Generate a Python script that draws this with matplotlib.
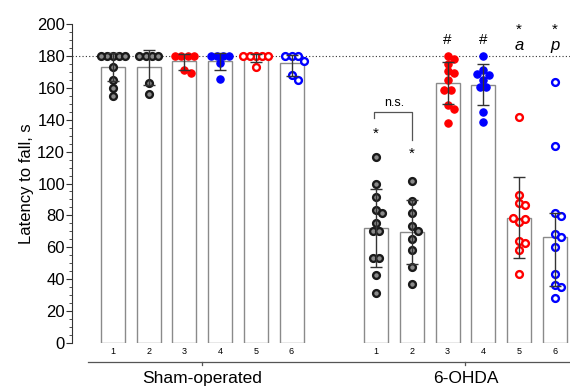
import numpy as np
import matplotlib.pyplot as plt

plt.rcParams['font.family'] = ['Liberation Sans', 'DejaVu Sans']

# 数据
groups = ["Sham-operated", "6-OHDA"]
bar_labels = ["1", "2", "3", "4", "5", "6"]

sham_mean = [173, 173, 177, 177, 178.8, 175.5]
sham_lo = [9, 11, 5.5, 6, 2.8, 8]
sham_hi = [9, 11, 4.5, 5, 2.5, 5]

ohda_mean = [72.2, 69.6, 162.8, 161.6, 78.6, 66.3]
ohda_lo = [24.4, 20.1, 13.2, 12.6, 25.1, 30.3]
ohda_hi = [24.5, 19.8, 13.6, 13.3, 25.8, 15.4]

sham_pts = [
    [180, 180, 180, 180, 180, 173, 165, 160, 155],
    [180, 180, 180, 180, 163, 156],
    [180, 180, 180, 180, 171, 169],
    [180, 180, 180, 180, 175.7, 165.7],
    [180, 180, 180, 180, 180, 173],
    [180, 180, 180, 177, 168, 165],
]
ohda_pts = [
    [116.6, 99.5, 91.5, 83.6, 81.6, 75.4, 70.2, 70.2, 53.5, 53.5, 42.4, 31.3],
    [101.4, 89, 81.5, 73.4, 70.2, 65.4, 58.3, 47.4, 37.2],
    [180, 177.8, 175, 170.5, 169, 164.7, 158.6, 158.6, 149.2, 147, 138.1],
    [180, 170.9, 168, 168.9, 164.9, 160.8, 160.8, 144.6, 138.7],
    [141.5, 92.6, 87.6, 86.5, 75.6, 77.5, 78.4, 63.7, 62.5, 58.3, 43.3],
    [163.9, 123.5, 81.5, 79.4, 68.3, 66.2, 60.4, 43.3, 36.4, 35.3, 28.4],
]

ohda_marks = [["*"], ["*"], ["#"], ["#"], ["*", "a"], ["*", "p"]]

colors = ["#1a1a1a", "#1a1a1a", "red", "blue", "red", "blue"]
filled = [False, False, True, True, False, False]

# 画布
fig = plt.figure(figsize=(5.7, 3.88), dpi=100)
ax = fig.add_axes([0.1263, 0.116, 0.8737, 0.822])

gap = 7.37
x_sham = np.arange(6)
x_ohda = np.arange(6) + gap
xs = np.concatenate([x_sham, x_ohda])
means = sham_mean + ohda_mean
lo = sham_lo + ohda_lo
hi = sham_hi + ohda_hi
pts = sham_pts + ohda_pts

ax.set_xlim(-1.15, 12.8)
ax.set_ylim(0, 200)

ax.bar(xs, means, width=0.67, color="white", edgecolor="#8a8a8a", linewidth=1, zorder=2)


def swarm(vals, xscale, yscale, diam):
    # 简单的蜂群排布，避免点重叠
    placed = []
    offs = []
    for v in vals:
        k = 0
        while True:
            cand = [0] if k == 0 else [k, -k]
            ok = None
            for c in cand:
                dx = c * diam
                if all((dx - p[0]) ** 2 + ((v - p[1]) * yscale) ** 2 >= (diam * 0.95) ** 2 for p in placed):
                    ok = dx
                    break
            if ok is not None:
                break
            k += 1
        placed.append((ok, v))
        offs.append(ok / xscale)
    offs = np.array(offs)
    # 相同数值的点居中
    vals = np.array(vals)
    for v in np.unique(vals):
        m = vals == v
        if m.sum() > 1:
            offs[m] = offs[m] - offs[m].mean()
    return offs


xscale = 35.7  # 每个数据单位的像素
yscale = 319 / 200
for i, (x, vals) in enumerate(zip(xs, pts)):
    c = colors[i % 6]
    f = filled[i % 6]
    offs = swarm(vals, xscale, yscale, 6.2)
    if f:
        ax.scatter(x + offs, vals, s=28, color=c, edgecolors=c, linewidths=0.8, zorder=3)
    else:
        fc = "#8a8a8a" if i % 6 < 2 else "white"
        ax.scatter(x + offs, vals, s=24, facecolors=fc, edgecolors=c, linewidths=1.7, zorder=3)

ax.errorbar(xs, means, yerr=[lo, hi], fmt="none", ecolor="#333333", elinewidth=1,
            capsize=4.5, capthick=1, zorder=4)

ax.axhline(180, color="#333333", linestyle=(0, (1, 2)), linewidth=0.8, zorder=1)

# 标注
for x, m in zip(x_ohda, ohda_marks):
    if m[0] == "#":
        ax.text(x, 190, "#", ha="center", va="center", fontsize=11)
    elif len(m) == 2:
        ax.text(x, 196.5, "*", ha="center", va="center", fontsize=11)
        ax.text(x, 186.5, m[1], ha="center", va="center", fontsize=12, style="italic")
ax.text(x_ohda[0], 131, "*", ha="center", va="center", fontsize=11)
ax.text(x_ohda[1], 118.5, "*", ha="center", va="center", fontsize=11)
ax.plot([x_ohda[0] - 0.05, x_ohda[0] - 0.05, x_ohda[1], x_ohda[1]], [141, 144.8, 144.8, 127],
        color="#555555", linewidth=0.9, zorder=2)
ax.text((x_ohda[0] + x_ohda[1]) / 2, 150.5, "n.s.", ha="center", va="center", fontsize=9)

# 坐标轴
for s in ["top", "right", "bottom"]:
    ax.spines[s].set_visible(False)
ax.spines["left"].set_color("#333333")
ax.set_yticks(np.arange(0, 201, 20))
ax.set_yticks(np.arange(0, 201, 5), minor=True)
ax.tick_params(axis="y", which="major", length=4, color="#333333", labelsize=12, pad=1)
ax.tick_params(axis="y", which="minor", length=2, color="#333333")
ax.set_ylabel("Latency to fall, s", fontsize=12, labelpad=2)

ax.set_xticks(xs)
ax.set_xticklabels(bar_labels * 2, fontsize=6.5)
ax.tick_params(axis="x", length=0, pad=3)

tr = ax.get_xaxis_transform()
ax.plot([-0.7, 12.8], [-0.06, -0.06], transform=tr, color="#555555", linewidth=0.9, clip_on=False)
for gx, g in zip([x_sham.mean(), x_ohda.mean()], groups):
    ax.plot([gx, gx], [-0.06, -0.068], transform=tr, color="#555555", linewidth=0.9, clip_on=False)
    ax.text(gx, -0.112, g, transform=tr, ha="center", va="center", fontsize=12.5)

fig.savefig("out.png", dpi=100)
